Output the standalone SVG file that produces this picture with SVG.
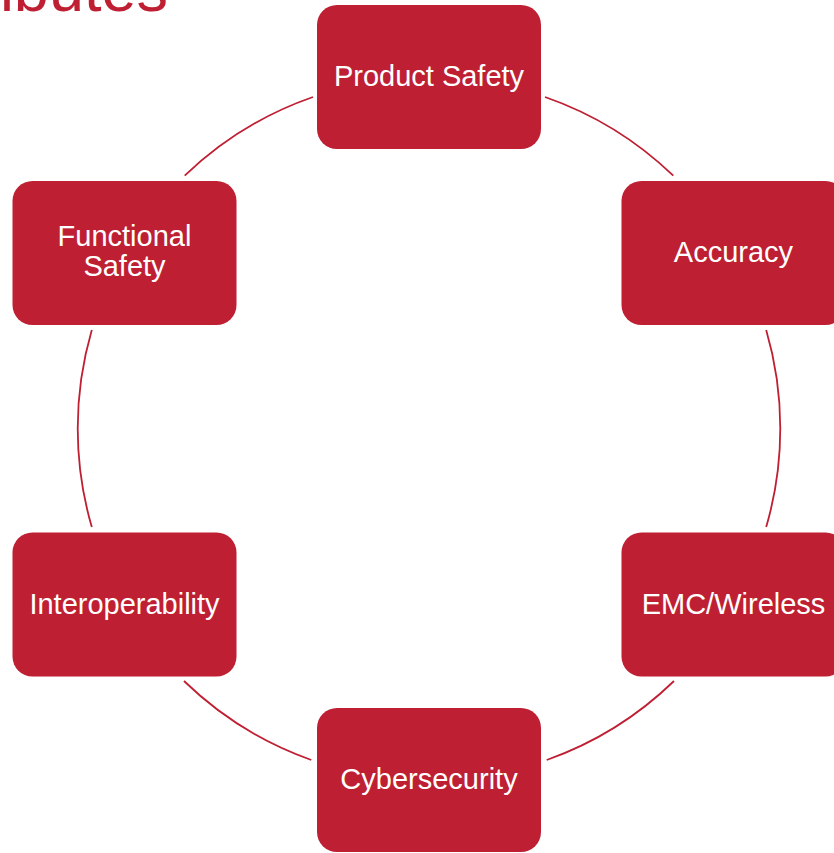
<svg xmlns="http://www.w3.org/2000/svg" width="834" height="853" viewBox="0 0 834 853">
  <style>
    .node rect { fill: #BF1F32; }
    .node text { fill: #FFFFFF; font-family: "Liberation Sans", Arial, sans-serif; font-size: 29px; text-anchor: middle; }
    .arc { fill: none; stroke: #BF1F32; stroke-width: 1.8; }
    .title { fill: #BF1F32; font-family: "Liberation Sans", Arial, sans-serif; font-size: 63px; text-anchor: end; }
  </style>
  <rect width="834" height="853" fill="#FFFFFF"/>

  <!-- heading, running off the top-left edge -->
  <text class="title" x="168" y="11">ibutes</text>

  <!-- ring segments between the boxes (centre 429,428.5, r 351.5) -->
  <g id="connectors">
    <path class="arc" d="M545 97 A351.5 351.5 0 0 1 673.3 175.7"/>
    <path class="arc" d="M766.2 330 A351.5 351.5 0 0 1 766.2 527"/>
    <path class="arc" d="M674 681 A351.5 351.5 0 0 1 546.7 760"/>
    <path class="arc" d="M311.3 760 A351.5 351.5 0 0 1 184 681"/>
    <path class="arc" d="M91.8 527 A351.5 351.5 0 0 1 91.8 330"/>
    <path class="arc" d="M184.7 175.7 A351.5 351.5 0 0 1 313 97"/>
  </g>

  <g id="product-safety" class="node">
    <rect x="317" y="5" width="224" height="144" rx="20"/>
    <text x="429" y="86">Product Safety</text>
  </g>
  <g id="accuracy" class="node">
    <rect x="621.5" y="181" width="224" height="144" rx="20"/>
    <text x="733.5" y="262">Accuracy</text>
  </g>
  <g id="emc-wireless" class="node">
    <rect x="621.5" y="532.5" width="224" height="144" rx="20"/>
    <text x="733.5" y="613.5">EMC/Wireless</text>
  </g>
  <g id="cybersecurity" class="node">
    <rect x="317" y="708" width="224" height="144" rx="20"/>
    <text x="429" y="789">Cybersecurity</text>
  </g>
  <g id="interoperability" class="node">
    <rect x="12.5" y="532.5" width="224" height="144" rx="20"/>
    <text x="124.5" y="613.5">Interoperability</text>
  </g>
  <g id="functional-safety" class="node">
    <rect x="12.5" y="181" width="224" height="144" rx="20"/>
    <text x="124.5" y="246">Functional</text>
    <text x="124.5" y="276">Safety</text>
  </g>
</svg>
